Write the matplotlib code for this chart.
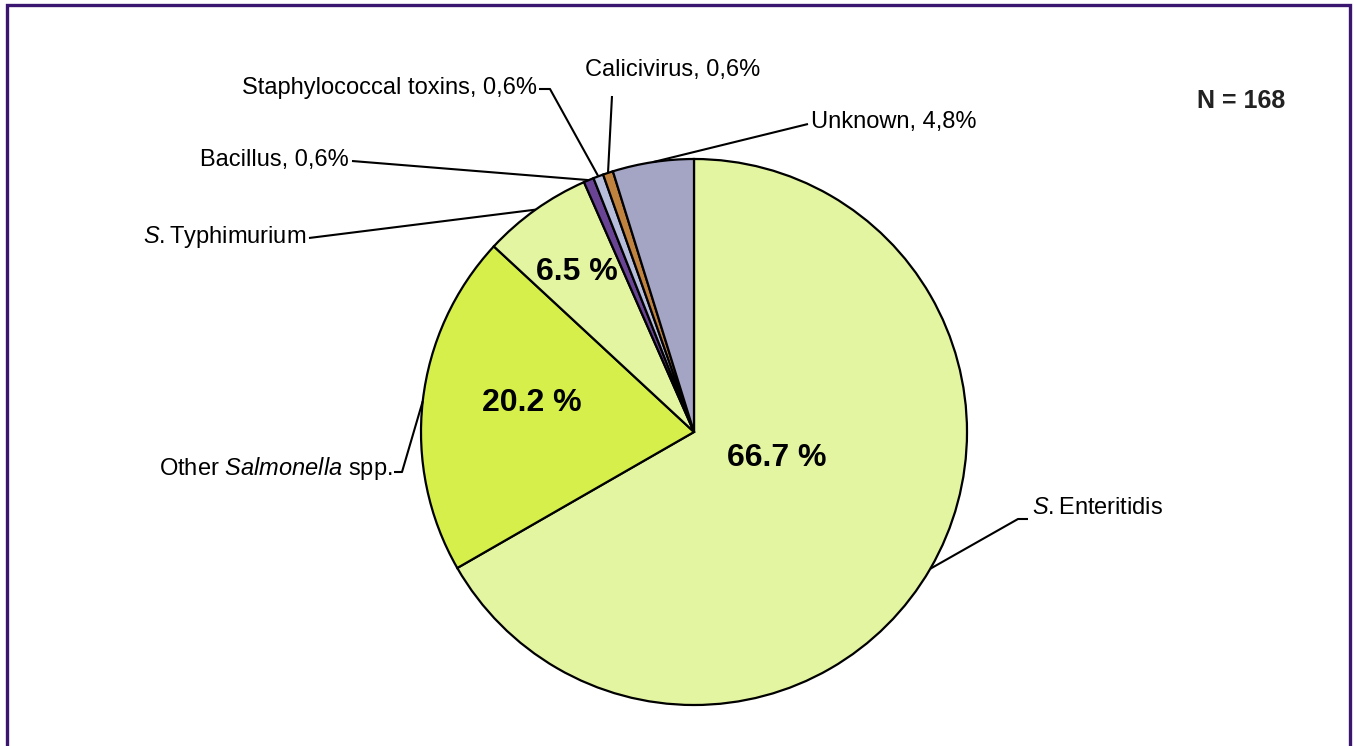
import numpy as np
import matplotlib
matplotlib.use('Agg')
import matplotlib.pyplot as plt

plt.rcParams['font.family'] = ['Liberation Sans', 'DejaVu Sans']
plt.rcParams['mathtext.fontset'] = 'custom'
plt.rcParams['mathtext.rm'] = 'Liberation Sans'
plt.rcParams['mathtext.it'] = 'Liberation Sans:italic'

# data, clockwise from 12 o'clock
labels = [r'$\mathit{S.}$Enteritidis', 'Other $\\mathit{Salmonella}$ spp.',
          r'$\mathit{S.}$Typhimurium', 'Bacillus, 0,6%',
          'Staphylococcal toxins, 0,6%', 'Calicivirus, 0,6%', 'Unknown, 4,8%']
shares = [66.7, 20.2, 6.5, 0.6, 0.6, 0.6, 4.8]
inner_labels = ['66.7 %', '20.2 %', '6.5 %', '', '', '', '']
colors = ['#e3f5a0', '#d7ef4b', '#e3f5a0', '#6a4494', '#b6bedc', '#bf823f', '#a4a4c4']
n_total = 168

W, H = 1354, 746
fig = plt.figure(figsize=(W / 100, H / 100), dpi=100)
ax = fig.add_axes([0, 0, 1, 1])

cx, cy, r = 694, H - 432, 273
wedges, _ = ax.pie(shares, colors=colors, startangle=90, counterclock=False,
                   center=(cx, cy), radius=r, frame=True,
                   wedgeprops=dict(edgecolor='black', linewidth=1.6))
ax.set_xlim(0, W)
ax.set_ylim(0, H)
ax.set_aspect('equal')
ax.axis('off')

# inner percentage labels (pixel positions)
inner_pos = [(777, 458), (532, 403), (577, 272)]
for txt, (px, py) in zip(inner_labels, inner_pos):
    ax.text(px, H - py, txt, ha='center', va='center', fontsize=23,
            fontweight='bold', color='black')

# outer labels: text anchor, alignment, leader elbow points
outer = [
    ((1032, 508), 'left', [(1028, 519), (1018, 519)]),
    ((392, 469), 'right', [(394, 472), (402, 472)]),
    ((306, 237), 'right', [(309, 238)]),
    ((349, 160), 'right', [(352, 161)]),
    ((537, 88), 'right', [(539, 89), (550, 89)]),
    ((585, 70), 'left', [(612, 96)]),
    ((811, 122), 'left', [(808, 124)]),
]
for w, lab, ((tx, ty), ha, pts) in zip(wedges, labels, outer):
    ax.text(tx, H - ty, lab, ha=ha, va='center', fontsize=17)
    mid = np.deg2rad((w.theta1 + w.theta2) / 2)
    ex, ey = cx + r * np.cos(mid), cy + r * np.sin(mid)
    xs = [p[0] for p in pts] + [ex]
    ys = [H - p[1] for p in pts] + [ey]
    ax.plot(xs, ys, color='black', linewidth=1.5, solid_capstyle='butt')

ax.text(1197, H - 101, f'N = {n_total}', ha='left', va='center',
        fontsize=18, fontweight='bold', color='#222222')

# frame on top, left and right
ax.plot([7, 7, 1350, 1350], [0, H - 5, H - 5, 0], color='#3b1670',
        linewidth=2.4, solid_joinstyle='miter')

fig.savefig('out.png', dpi=100)
